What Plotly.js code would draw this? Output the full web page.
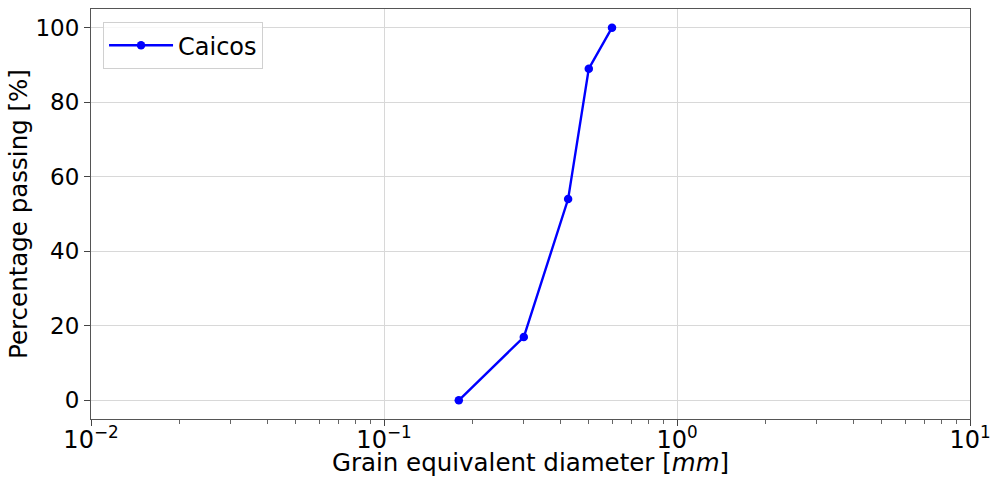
<!DOCTYPE html>
<html>
<head>
<meta charset="utf-8">
<script src="https://cdn.plot.ly/plotly-3.0.1.min.js"></script>
<style>html,body{margin:0;padding:0;background:#fff;}#chart{width:992px;height:477px;}</style>
</head>
<body>
<div id="chart"></div>
<script>
const seriesName = "Caicos";
const diameter = [0.18, 0.30, 0.425, 0.50, 0.60];
const passing = [0, 17, 54, 89, 100];
const xTickVals = [0.01, 0.1, 1, 10];
const xTickText = ["10<sup>−2</sup>", "10<sup>−1</sup>", "10<sup>0</sup>", "10<sup>1</sup>"];
const xMinorVals = [];
[0.01, 0.1, 1].forEach(d => { for (let k = 2; k <= 9; k++) xMinorVals.push(d * k); });
const yTickVals = [0, 20, 40, 60, 80, 100];

const font = "DejaVu Sans, sans-serif";
const trace = {
  x: diameter, y: passing, name: seriesName,
  type: "scatter", mode: "lines+markers",
  line: {color: "#0000ff", width: 2.4},
  marker: {color: "#0000ff", size: 8.5}
};
const layout = {
  width: 992, height: 477,
  margin: {l: 91, r: 22, t: 9, b: 58},
  paper_bgcolor: "#fff", plot_bgcolor: "#fff",
  font: {family: font, size: 23, color: "#000"},
  showlegend: true,
  legend: {x: 0.0137, y: 0.968, xanchor: "left", yanchor: "top",
    bgcolor: "rgba(255,255,255,0.8)", bordercolor: "#d0d0d0", borderwidth: 1,
    itemwidth: 64, tracegroupgap: 0,
    font: {family: font, size: 24, color: "#000"}},
  xaxis: {
    type: "log", range: [-2, 1],
    tickmode: "array", tickvals: xTickVals, ticktext: xTickText,
    ticks: "outside", ticklen: 6, tickcolor: "#444",
    ticklabelstandoff: -7,
    showgrid: true, gridcolor: "#d8d8d8", gridwidth: 1,
    showline: true, linecolor: "#555", linewidth: 1, mirror: true,
    zeroline: false,
    tickfont: {family: font, size: 24},
    minor: {tickmode: "array", tickvals: xMinorVals, ticks: "outside", ticklen: 3.5, tickcolor: "#666", showgrid: false},
    title: {text: "Grain equivalent diameter [<i>mm</i>]", font: {family: font, size: 24.5}, standoff: 2}
  },
  yaxis: {
    range: [-5, 105],
    tickmode: "array", tickvals: yTickVals,
    ticks: "outside", ticklen: 6, tickcolor: "#444",
    showgrid: true, gridcolor: "#d8d8d8", gridwidth: 1,
    showline: true, linecolor: "#555", linewidth: 1, mirror: true,
    zeroline: false,
    tickfont: {family: font, size: 23},
    title: {text: "Percentage passing [%]", font: {family: font, size: 24.5}, standoff: 0}
  }
};
Plotly.newPlot("chart", [trace], layout, {displayModeBar: false, staticPlot: true});
</script>
</body>
</html>
